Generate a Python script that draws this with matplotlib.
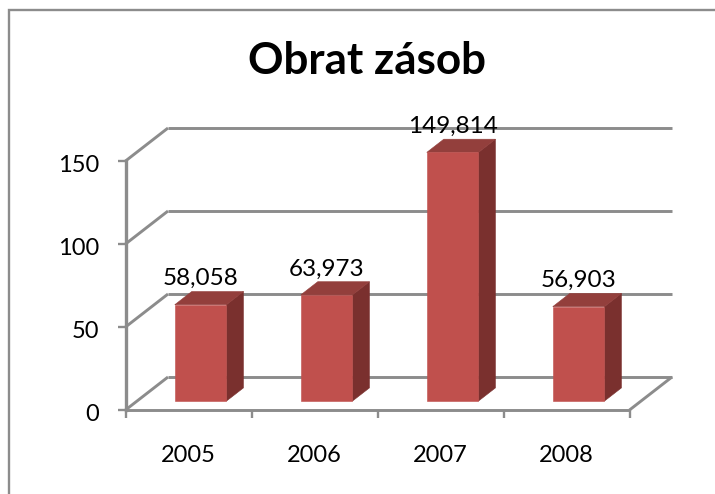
import matplotlib
matplotlib.use("Agg")
import matplotlib.pyplot as plt
from matplotlib.patches import Polygon
from matplotlib.lines import Line2D
from matplotlib.transforms import ScaledTranslation

plt.rcParams['font.family'] = ['Lato', 'Open Sans', 'DejaVu Sans']

title = "Obrat zásob"
categories = ["2005", "2006", "2007", "2008"]
values = [58.058, 63.973, 149.814, 56.903]
value_labels = ["58,058", "63,973", "149,814", "56,903"]
y_ticks = [0, 50, 100, 150]

W, H = 715, 494
GRAY = "#8c8c8c"
FRONT, TOP, SIDE = "#c0504d", "#933f3c", "#7a302e"

fig = plt.figure(figsize=(W / 100, H / 100), dpi=100, facecolor="white")
x0, x1, ytop, ybot = 125.5, 629.5, 161.0, 410.0
ax = fig.add_axes([x0 / W, 1 - ybot / H, (x1 - x0) / W, (ybot - ytop) / H])
ax.set_xlim(0, 4)
ax.set_ylim(0, 150)
ax.patch.set_alpha(0)

DX = 42.5 / ((x1 - x0) / 4)
DY = 33.0 / ((ybot - ytop) / 150)


def proj(x, y, d):
    return x + DX * d, y + DY * d


# chart frame: only its left and top edges fall inside the picture
fx, fy = 8.5 / W, 1 - 10.0 / H
fig.add_artist(Line2D([fx, fx, 1.01], [-0.01, fy, fy], transform=fig.transFigure,
                      color=GRAY, linewidth=1.7, solid_joinstyle="miter"))

line = dict(color=GRAY, linewidth=2.1, solid_capstyle="butt", clip_on=False, zorder=1)
for t in y_ticks:
    xa, ya = proj(0, t, 1)
    xb, yb = proj(4, t, 1)
    ax.plot([0, xa], [t, ya], **line)
    ax.plot([xa, xb], [ya, yb], **line)
xa, ya = proj(4, 0, 1)
ax.plot([4, xa], [0, ya], **line)
ax.plot([0, 4], [0, 0], **line)
ax.plot([0, 0], [0, 150], color=GRAY, linewidth=2.4, clip_on=False, zorder=1)

bar_w = 0.41
for i, v in enumerate(values):
    l = i + 0.505 - bar_w / 2
    r = l + bar_w
    d0, d1 = 0.27, 0.67
    f = [proj(l, 0, d0), proj(r, 0, d0), proj(r, v, d0), proj(l, v, d0)]
    t = [proj(l, v, d0), proj(r, v, d0), proj(r, v, d1), proj(l, v, d1)]
    s = [proj(r, 0, d0), proj(r, 0, d1), proj(r, v, d1), proj(r, v, d0)]
    for pts, c in ((s, SIDE), (t, TOP), (f, FRONT)):
        ax.add_patch(Polygon(pts, closed=True, facecolor=c, edgecolor=c, linewidth=0.4,
                             clip_on=False, zorder=3))
    cx, cy = proj(i + 0.505, v, d0)
    ax.annotate(value_labels[i], (cx, cy), xytext=(0, 26 * 0.72), textcoords="offset points",
                ha="center", va="center", fontsize=17.5, color="black", zorder=5,
                annotation_clip=False)

for s in ax.spines.values():
    s.set_visible(False)
ax.set_yticks(y_ticks)
ax.set_xticks(range(5))
ax.set_xticklabels([])
ax.tick_params(axis="both", which="major", length=5.8, width=1.7, color=GRAY, labelsize=17, pad=13)
ax.tick_params(axis="x", which="major", pad=7)
ax.set_xticks([i + 0.5 for i in range(4)], minor=True)
ax.set_xticklabels(categories, minor=True)
ax.tick_params(axis="x", which="minor", length=0, labelsize=17, pad=25)
shift = ScaledTranslation(0, -2.5 / 100, fig.dpi_scale_trans)
for lab in ax.get_yticklabels():
    lab.set_transform(lab.get_transform() + shift)

fig.text(367.5 / W, 1 - 61.5 / H, title, ha="center", va="center", fontsize=31.7, fontweight="bold", color="black")

fig.savefig("out.png", dpi=100)
